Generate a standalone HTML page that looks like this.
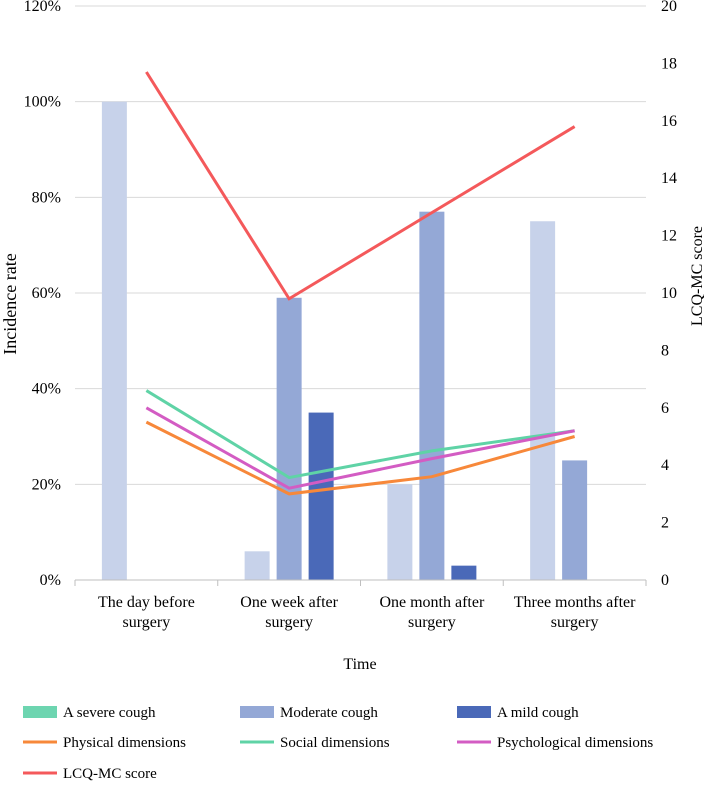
<!DOCTYPE html>
<html><head><meta charset="utf-8"><style>
body{margin:0;background:#fff;}
svg text{font-family:"Liberation Serif",serif;fill:#000;}
</style></head><body>
<svg id="chart" width="704" height="782" viewBox="0 0 704 782" xmlns="http://www.w3.org/2000/svg">
<g id="grid"></g>
<g id="bars"></g>
<g id="lines"></g>
<g id="axes"></g>
<text transform="translate(16,304) rotate(-90)" text-anchor="middle" font-size="18">Incidence rate</text>
<text transform="translate(702,276) rotate(-90)" text-anchor="middle" font-size="16">LCQ-MC score</text>
<text x="360" y="669" text-anchor="middle" font-size="16">Time</text>
<g id="legend"></g>
</svg>
<script>
const categories = [["The day before","surgery"],["One week after","surgery"],["One month after","surgery"],["Three months after","surgery"]];
const severeCough = [100, 6, 20, 75];
const moderateCough = [0, 59, 77, 25];
const mildCough = [0, 35, 3, 0];
const physical = [5.5, 3.0, 3.6, 5.0];
const social = [6.6, 3.57, 4.5, 5.2];
const psychological = [6.0, 3.2, 4.23, 5.2];
const lcq = [17.7, 9.8, 12.8, 15.8];
const leftTicks = [0, 20, 40, 60, 80, 100, 120];
const rightTicks = [0, 2, 4, 6, 8, 10, 12, 14, 16, 18, 20];

const NS = "http://www.w3.org/2000/svg";
const X0 = 75, X1 = 646, Y0 = 580, Y1 = 6;
const cw = (X1 - X0) / categories.length;
const yL = v => Y0 - (v / 120) * (Y0 - Y1);
const yR = v => Y0 - (v / 20) * (Y0 - Y1);
const xC = i => X0 + cw * (i + 0.5);
function mk(tag, attrs, parent) {
  const e = document.createElementNS(NS, tag);
  for (const k in attrs) e.setAttribute(k, attrs[k]);
  parent.appendChild(e);
  return e;
}
const grid = document.getElementById('grid');
const axes = document.getElementById('axes');
leftTicks.forEach(t => {
  if (t > 0) {
    const g = mk('line', {x1: X0, x2: X1, y1: yL(t), y2: yL(t), stroke: '#d9d9d9', 'stroke-width': 1}, grid);
    
    
  }
  const tx = mk('text', {x: 61, y: yL(t) + 5, 'text-anchor': 'end', 'font-size': 16}, axes);
  tx.textContent = t + '%';
  
  
});
rightTicks.forEach(t => {
  const tx = mk('text', {x: 661, y: yR(t) + 5, 'font-size': 16}, axes);
  tx.textContent = t;
  
  
});
const bars = document.getElementById('bars');
const series = [[severeCough, '#c7d2ea'], [moderateCough, '#94a8d6'], [mildCough, '#4a69b8']];
series.forEach((s, si) => {
  s[0].forEach((v, i) => {
    if (v <= 0) return;
    const cx = xC(i) + (si - 1) * 32;
    const r = mk('rect', {x: cx - 12.5, y: yL(v), width: 25, height: Y0 - yL(v), fill: s[1]}, bars);
    
    
  });
});
const al = mk('line', {x1: X0, x2: X1, y1: Y0, y2: Y0, stroke: '#bfbfbf', 'stroke-width': 1}, axes);


for (let i = 0; i <= categories.length; i++) {
  const tk = mk('line', {x1: X0 + cw * i, x2: X0 + cw * i, y1: Y0, y2: Y0 + 6, stroke: '#bfbfbf'}, axes);
  
  
}
categories.forEach((c, i) => {
  c.forEach((ln, j) => {
    const tx = mk('text', {x: xC(i), y: 607 + j * 20, 'text-anchor': 'middle', 'font-size': 16}, axes);
    tx.textContent = ln;
    
    
  });
});
const lines = document.getElementById('lines');
const lineSeries = [[physical, '#f7883a'], [social, '#5fd3a6'], [psychological, '#d35cc3'], [lcq, '#f4595b']];
lineSeries.forEach(s => {
  const pts = s[0].map((v, i) => xC(i) + ',' + yR(v)).join(' ');
  const p = mk('polyline', {points: pts, fill: 'none', stroke: s[1], 'stroke-width': 3, 'stroke-linejoin': 'miter'}, lines);
  
  
});
const legend = document.getElementById('legend');
const items = [
  ['A severe cough', '#6dd5b0', 'box', 23, 712], ['Moderate cough', '#94a8d6', 'box', 240, 712], ['A mild cough', '#4a69b8', 'box', 457, 712],
  ['Physical dimensions', '#f7883a', 'line', 23, 742], ['Social dimensions', '#5fd3a6', 'line', 240, 742], ['Psychological dimensions', '#d35cc3', 'line', 457, 742],
  ['LCQ-MC score', '#f4595b', 'line', 23, 773]
];
items.forEach(it => {
  const g = mk('g', {}, legend);
  
  
  if (it[2] === 'box') mk('rect', {x: it[3], y: it[4] - 6, width: 34, height: 12, fill: it[1]}, g);
  else mk('line', {x1: it[3], x2: it[3] + 34, y1: it[4], y2: it[4], stroke: it[1], 'stroke-width': 3}, g);
  const t = mk('text', {x: it[3] + 40, y: it[4] + 5, 'font-size': 15}, g);
  t.textContent = it[0];
});
</script>
</body></html>
